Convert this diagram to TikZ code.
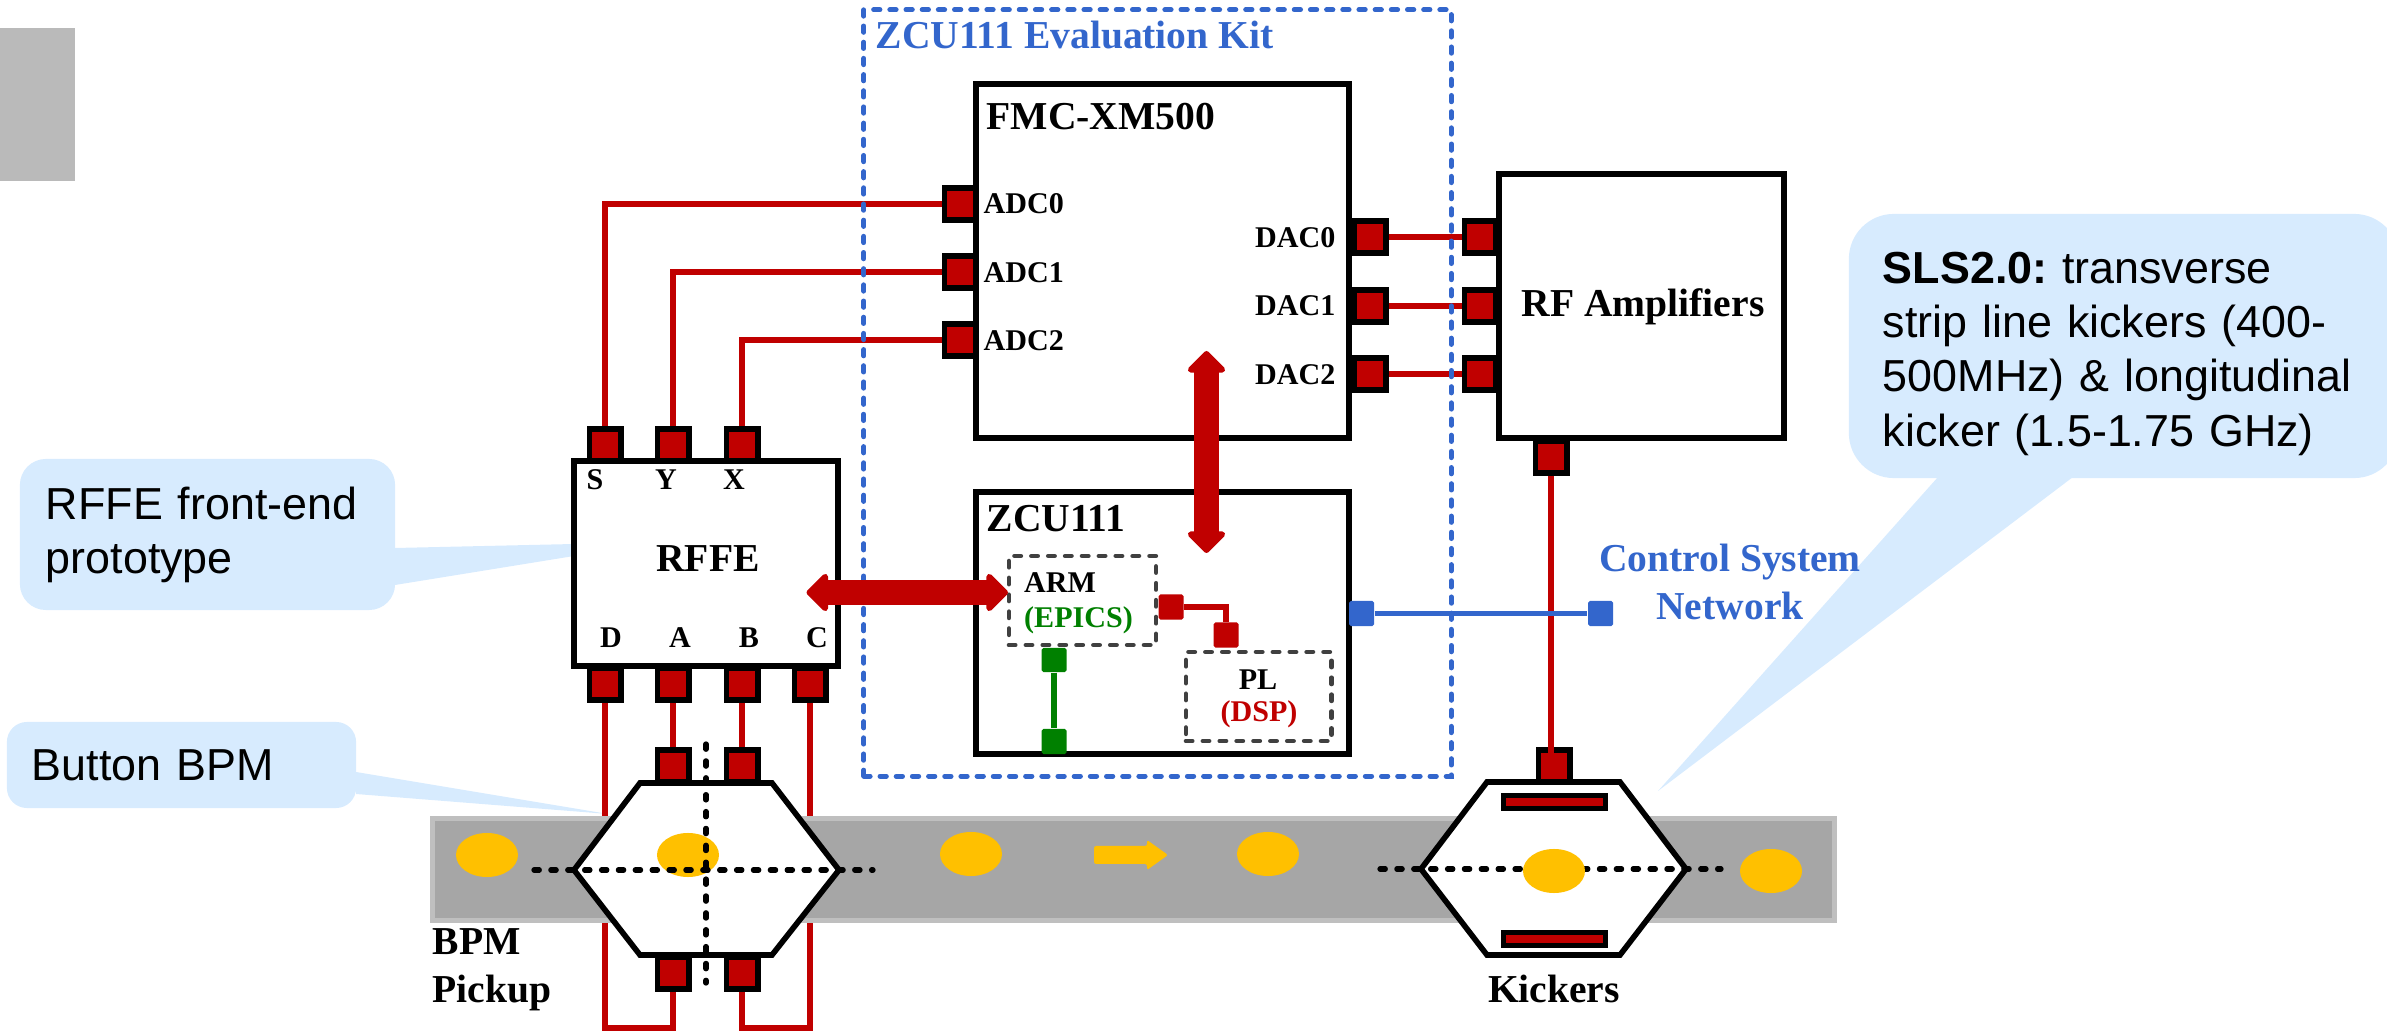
\documentclass[tikz,border=0pt]{standalone}
\usepackage{fontspec}
\setmainfont{Liberation Serif}
\newfontfamily\calloutfont{Liberation Sans}
\usetikzlibrary{arrows.meta,shapes.geometric}

\definecolor{padred}{HTML}{C00000}
\definecolor{netblue}{HTML}{3366CC}
\definecolor{epicsgreen}{HTML}{008000}
\definecolor{calloutblue}{HTML}{D7EBFE}
\definecolor{beamgray}{HTML}{A6A6A6}
\definecolor{beamedge}{HTML}{BFBFBF}
\definecolor{bunchyellow}{HTML}{FFC000}
\definecolor{dashgray}{HTML}{404040}

\newcommand{\bigfont}{\fontsize{11.25}{13.5}\selectfont\bfseries}
\newcommand{\smallfont}{\fontsize{8.55}{10.2}\selectfont\bfseries}
\newcommand{\notefont}{\calloutfont\fontsize{12.75}{15.4}\selectfont\frenchspacing}

\tikzset{
	block/.style={draw=black,line width=1.6pt,fill=white,inner sep=0pt},
	subblock/.style={draw=dashgray,line width=1.3pt,dash pattern=on 1.8pt off 3pt,line cap=round,inner sep=0pt},
	pad/.style={draw=black,line width=1.7pt,fill=padred,inner sep=0pt,minimum width=0.31cm,minimum height=0.32cm},
	smallpad/.style={fill=#1,rounded corners=0.5pt,inner sep=0pt,minimum width=0.25cm,minimum height=0.25cm},
	strip/.style={draw=black,line width=1.6pt,fill=padred,inner sep=0pt,minimum width=1.02cm,minimum height=0.13cm},
	redline/.style={draw=padred,line width=1.5pt},
	bus/.style={draw=padred,line width=7pt,{Triangle[length=6.5pt,width=12.5pt,round]}-{Triangle[length=6.5pt,width=12.5pt,round]}},
	title/.style={font=\bigfont,inner sep=0pt,anchor=base west},
	tag/.style={font=\smallfont,inner sep=0pt,anchor=base},
	bunch/.style={ellipse,fill=bunchyellow,inner sep=0pt,minimum width=0.62cm,minimum height=0.44cm},
	axis/.style={line width=1.5pt,dash pattern=on 1.5pt off 3.3pt,line cap=round},
	note/.style={fill=calloutblue,rounded corners=#1,inner sep=0pt,align=left,font=\notefont},
	hexa/.style={draw=black,line width=1.6pt,fill=white,line join=miter},
}

\begin{document}
\begin{tikzpicture}[x=0.01cm,y=-0.01cm]
	\useasboundingbox (0,0) rectangle (2387,1031);

	\fill [fill=black!27] (0,28) rectangle (75,181);

	% callouts
	\coordinate (rffeTip1) at (574,544);
	\coordinate (rffeTip2) at (574,556);
	\coordinate (btnTip) at (608,814);
	\coordinate (slsTip) at (1658,791);
	\fill [calloutblue] (395,548) -- (rffeTip1) -- (rffeTip2) -- (395,585) -- cycle;
	\fill [calloutblue] (356,772) -- (btnTip) -- (356,794) -- cycle;
	\fill [calloutblue] (1938,477) -- (slsTip) -- (2073,477) -- cycle;
	\node (noteRffe) [note=0.26cm,minimum width=3.75cm,minimum height=1.51cm,text width=3.23cm] at (207.5,534.5) {RFFE front-end\\prototype};
	\node (noteBtn) [note=0.2cm,minimum width=3.49cm,minimum height=0.86cm,text width=2.99cm] at (181.5,765) {Button BPM};
	\node (noteSls) [note=0.45cm,minimum width=5.5cm,minimum height=2.64cm,text width=4.82cm] at (2124,346) {\rule{0pt}{0.47cm}\textbf{SLS2.0:} transverse\\strip line kickers (400-\\500MHz) \& longitudinal\\kicker (1.5-1.75 GHz)};

	% blocks
	\node (rffe) [block,minimum width=2.64cm,minimum height=2.05cm] at (706,563.5) {};
	\node (fmc) [block,minimum width=3.73cm,minimum height=3.54cm] at (1162.5,261) {};
	\node (zcu) [block,minimum width=3.73cm,minimum height=2.62cm] at (1162.5,623) {};
	\node (rfamp) [block,minimum width=2.85cm,minimum height=2.64cm] at (1641.5,306) {};
	\node (arm) [subblock,minimum width=1.47cm,minimum height=0.89cm] at (1082.5,600.5) {};
	\node (pl) [subblock,minimum width=1.455cm,minimum height=0.89cm] at (1258.75,696.5) {};

	% pads
	\node (padS) [pad] at (605,445) {};
	\node (padY) [pad] at (673,445) {};
	\node (padX) [pad] at (742,445) {};
	\node (padD) [pad] at (605,684) {};
	\node (padA) [pad] at (673,684) {};
	\node (padB) [pad] at (742,684) {};
	\node (padC) [pad] at (810,684) {};
	\node (adc0) [pad] at (960,204) {};
	\node (adc1) [pad] at (960,272) {};
	\node (adc2) [pad] at (960,340) {};
	\node (dac0) [pad] at (1370,237) {};
	\node (dac1) [pad] at (1370,306) {};
	\node (dac2) [pad] at (1370,374) {};
	\node (amp0) [pad] at (1480,237) {};
	\node (amp1) [pad] at (1480,306) {};
	\node (amp2) [pad] at (1480,374) {};
	\node (ampOut) [pad] at (1551,457) {};

	% connectors
	\draw [redline] (padS) |- (adc0);
	\draw [redline] (padY) |- (adc1);
	\draw [redline] (padX) |- (adc2);
	\draw [redline] (dac0) -- (amp0);
	\draw [redline] (dac1) -- (amp1);
	\draw [redline] (dac2) -- (amp2);

	\coordinate (loopL) at (605,1028);
	\coordinate (loopR) at (810,1028);
	\node (pickT1) [pad] at (673,766) {};
	\node (pickT2) [pad] at (742,766) {};
	\node (pickB1) [pad] at (673,973) {};
	\node (pickB2) [pad] at (742,973) {};
	\node (kickIn) [pad] at (1554,766) {};
	\draw [redline] (padD) -- (loopL) -| (pickB1);
	\draw [redline] (padC) -- (loopR) -| (pickB2);
	\draw [redline] (padA) -- (pickT1);
	\draw [redline] (padB) -- (pickT2);
	\draw [redline] (ampOut) -- (ampOut |- kickIn);

	% beam pipe
	\node (beam) [draw=beamedge,line width=1.4pt,fill=beamgray,inner sep=0pt,minimum width=14.01cm,minimum height=1.015cm] at (1133.5,869.5) {};
	\node (bunch1) [bunch] at (487,855) {};
	\node (bunch3) [bunch] at (971,854) {};
	\node (bunch4) [bunch] at (1268,854) {};
	\node (bunch6) [bunch] at (1771,871) {};
	\fill [bunchyellow,rounded corners=0.6pt] (1094,846) -- (1147,846) -- (1147,840) -- (1168,855) -- (1147,870) -- (1147,864) -- (1094,864) -- cycle;

	% pickup and kicker
	\draw [hexa] (574,870) -- (640,783) -- (772,783) -- (839,870) -- (772,955) -- (640,955) -- cycle;
	\draw [hexa] (1421,869) -- (1487,782) -- (1620,782) -- (1686,869) -- (1620,955) -- (1487,955) -- cycle;
	\node (bunch2) [bunch] at (688,855) {};
	\draw [axis] (534,870) -- (873,870);
	\draw [axis] (706,744) -- (706,983);
	\draw [axis] (1380,869) -- (1721,869);
	\node (bunch5) [bunch] at (1554,871) {};
	\node (stripTop) [strip] at (1554.5,802) {};
	\node (stripBot) [strip] at (1554.5,939) {};

	% evaluation kit frame
	\node (kit) [draw=netblue,line width=1.4pt,dash pattern=on 1.8pt off 2.8pt,line cap=round,inner sep=0pt,minimum width=5.87cm,minimum height=7.66cm] at (1157.5,393) {};

	% internal links
	\node (armOut) [smallpad=padred] at (1171,607) {};
	\node (plIn) [smallpad=padred] at (1226,635) {};
	\draw [redline] (armOut) -| (plIn);
	\node (armDown) [smallpad=epicsgreen,minimum height=0.24cm] at (1054,660) {};
	\node (zcuDown) [smallpad=epicsgreen] at (1054,741.5) {};
	\draw [draw=epicsgreen,line width=1.5pt] (armDown) -- (zcuDown);
	\node (netOut) [smallpad=netblue] at (1361.5,613.5) {};
	\node (netEnd) [smallpad=netblue] at (1600.5,613.5) {};
	\draw [draw=netblue,line width=1.5pt] (netOut) -- (netEnd);

	% buses
	\coordinate (busFmc) at (1206.5,351);
	\coordinate (busZcu) at (1206.5,553);
	\coordinate (busRffe) at (806.5,592.5);
	\coordinate (busArm) at (1008,592.5);
	\draw [bus] (busFmc) -- (busZcu);
	\draw [bus] (busRffe) -- (busArm);

	% texts
	\node (kitName) [title,text=netblue] at (875,49) {ZCU111 Evaluation Kit};
	\node (fmcName) [title] at (986,130) {FMC-XM500};
	\node (zcuName) [title] at (986,532) {ZCU111};
	\node (ampName) [title,anchor=base] at (1643,317) {RF Amplifiers};
	\node (rffeName) [title,anchor=base] at (708,572) {RFFE};
	\node (bpmName) [title] at (432,955) {BPM};
	\node (pickName) [title] at (432,1002) {Pickup};
	\node (kickName) [title,anchor=base] at (1554,1002) {Kickers};
	\node (netName1) [title,anchor=base,text=netblue] at (1730,572) {Control System};
	\node (netName2) [title,anchor=base,text=netblue] at (1730,620) {Network};

	\node (tagADC0) [tag,anchor=base west] at (983,214) {ADC0};
	\node (tagADC1) [tag,anchor=base west] at (983,283) {ADC1};
	\node (tagADC2) [tag,anchor=base west] at (983,351) {ADC2};
	\node (tagDAC0) [tag,anchor=base east] at (1336,248) {DAC0};
	\node (tagDAC1) [tag,anchor=base east] at (1336,316) {DAC1};
	\node (tagDAC2) [tag,anchor=base east] at (1336,385) {DAC2};
	\node (tagS) [tag] at (595,490) {S};
	\node (tagY) [tag] at (666,490) {Y};
	\node (tagX) [tag] at (734,490) {X};
	\node (tagD) [tag] at (611,648) {D};
	\node (tagA) [tag] at (680,648) {A};
	\node (tagB) [tag] at (749,648) {B};
	\node (tagC) [tag] at (817,648) {C};
	\node (armName) [tag,anchor=base west] at (1023.5,593) {ARM};
	\node (armSub) [tag,anchor=base west,text=epicsgreen] at (1023.5,628) {(EPICS)};
	\node (plName) [tag] at (1258,690) {PL};
	\node (plSub) [tag,text=padred] at (1259,722) {(DSP)};
\end{tikzpicture}
\end{document}
